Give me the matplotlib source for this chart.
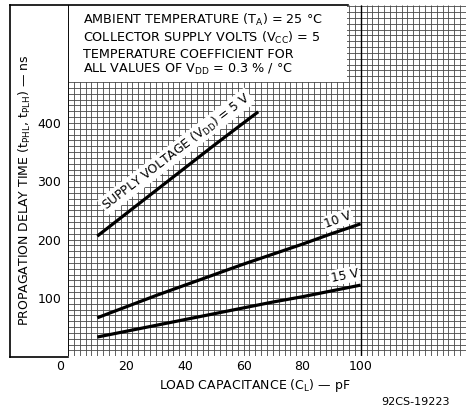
import matplotlib
matplotlib.use("Agg")
import matplotlib.pyplot as plt
import matplotlib.transforms as mtransforms
from matplotlib.patches import Rectangle
import numpy as np

plt.rcParams['font.family'] = ['DejaVu Sans']
plt.rcParams['mathtext.default'] = 'regular'

# Load capacitance (pF) and propagation delay (ns) per supply voltage
cap_5v = [10, 20, 30, 40, 50, 60, 65]
delay_5v = [206, 245, 284, 323, 362, 400, 419]

cap_10v = [10, 20, 30, 40, 50, 60, 70, 80, 90, 100]
delay_10v = [66, 85, 104, 122, 140, 158, 175, 192, 210, 227]

cap_15v = [10, 20, 30, 40, 50, 60, 70, 80, 90, 100]
delay_15v = [33, 43, 53, 63, 73, 83, 93, 102, 112, 122]

x_ticks = [0, 20, 40, 60, 80, 100]
y_ticks = [100, 200, 300, 400]

W, H = 466, 409
fig = plt.figure(figsize=(W / 100, H / 100), dpi=100)
ax = fig.add_axes([68 / W, 1 - 356.3 / H, (W - 68) / W, (356.3 - 5) / H])
ax.set_xlim(0, 136)
ax.set_ylim(0, 602)
for s in ax.spines.values():
    s.set_visible(False)

# graph-paper grid: 2 pF by 10 ns
grid_c = '#484848'
ax.vlines(np.arange(0, 137, 2), 0, 602, colors=grid_c, linewidth=0.6, zorder=1)
ax.hlines(np.arange(0, 603, 10), 0, 136, colors=grid_c, linewidth=0.6, zorder=1)
ax.vlines([100], 0, 602, colors='black', linewidth=1.0, zorder=1)
ax.vlines([0], 0, 602, colors='black', linewidth=1.2, zorder=1)

# note panel
ax.add_patch(Rectangle((0.5, 470), 95, 140, facecolor='white', edgecolor='none', zorder=2))
note = ("AMBIENT TEMPERATURE (T$_{A}$) = 25 °C\n"
        "COLLECTOR SUPPLY VOLTS (V$_{CC}$) = 5\n"
        "TEMPERATURE COEFFICIENT FOR\n"
        "ALL VALUES OF V$_{DD}$ = 0.3 % / °C")
ax.text(5, 590, note, fontsize=9.2, va='top', ha='left', linespacing=1.15, zorder=3)

# curves
for xs, ys in [(cap_5v, delay_5v), (cap_10v, delay_10v), (cap_15v, delay_15v)]:
    ax.plot(xs, ys, color='black', linewidth=2.3, solid_capstyle='butt', zorder=6)

lbl_box = dict(facecolor='white', edgecolor='none', pad=1.0)
ax.text(37.0, 351, "SUPPLY VOLTAGE (V$_{DD}$) = 5 V", rotation=37.5, fontsize=8.8,
        ha='center', va='center', rotation_mode='anchor', bbox=lbl_box, zorder=5)
ax.text(92.3, 234, "10 V", rotation=20, fontsize=8.8, ha='center', va='center',
        rotation_mode='anchor', bbox=lbl_box, zorder=5)
ax.text(94.5, 138, "15 V", rotation=11, fontsize=8.8, ha='center', va='center',
        rotation_mode='anchor', bbox=lbl_box, zorder=5)

# ticks
ax.set_xticks(x_ticks, [str(v) for v in x_ticks], fontsize=9)
ax.set_yticks(y_ticks, [str(v) for v in y_ticks], fontsize=9)
ax.tick_params(axis='x', length=0, pad=3)
ax.tick_params(axis='y', length=0, pad=5)
shift = mtransforms.ScaledTranslation(-8 / 100, 0, fig.dpi_scale_trans)
xl = ax.get_xticklabels()
xl[0].set_transform(xl[0].get_transform() + shift)

ax.set_xlabel("LOAD CAPACITANCE (C$_{L}$) — pF", fontsize=9)
ax.xaxis.set_label_coords((255 - 68) / (W - 68), -0.058)
ax.set_ylabel("PROPAGATION DELAY TIME (t$_{PHL}$, t$_{PLH}$) — ns", fontsize=9)
ax.yaxis.set_label_coords((33 - 68) / (W - 68), (356.3 - 190) / 351.3)

# outer frame lines
fx = lambda px: (px - 68) / (W - 68)
fy = lambda py: (356.3 - py) / 351.3
frame_kw = dict(color='black', linewidth=1.2, transform=ax.transAxes, clip_on=False, zorder=6)
ax.plot([fx(10), fx(10)], [fy(5), fy(357)], **frame_kw)
ax.plot([fx(10), fx(348)], [fy(5), fy(5)], **frame_kw)
ax.plot([fx(10), fx(68)], [fy(357), fy(357)], **frame_kw)

fig.text(415 / W, 1 - 402 / H, "92CS-19223", fontsize=8, ha='center', va='center')

fig.savefig("out.png", dpi=100)
